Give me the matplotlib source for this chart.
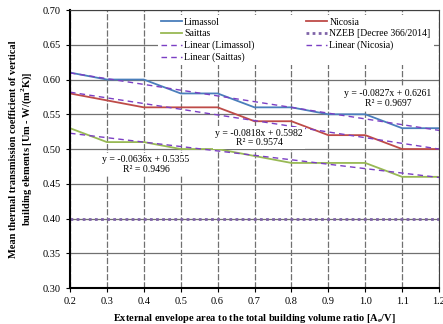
import numpy as np
import matplotlib
matplotlib.use('Agg')
import matplotlib.pyplot as plt

plt.rcParams['font.family'] = ['Liberation Serif', 'DejaVu Serif']

ratio = [0.2, 0.3, 0.4, 0.5, 0.6, 0.7, 0.8, 0.9, 1.0, 1.1, 1.2]
limassol = [0.61, 0.60, 0.60, 0.58, 0.58, 0.56, 0.56, 0.55, 0.55, 0.53, 0.53]
nicosia = [0.58, 0.57, 0.56, 0.56, 0.56, 0.54, 0.54, 0.52, 0.52, 0.50, 0.50]
saittas = [0.53, 0.51, 0.51, 0.50, 0.50, 0.49, 0.48, 0.48, 0.48, 0.46, 0.46]
nzeb = [0.40] * 11

fit_labels = ['y = -0.0827x + 0.6261\nR² = 0.9697',
              'y = -0.0818x + 0.5982\nR² = 0.9574',
              'y = -0.0636x + 0.5355\nR² = 0.9496']
fit_pos = [(1.062, 0.573), (0.713, 0.516), (0.406, 0.478)]

fig = plt.figure(figsize=(4.43, 3.24), dpi=100)
ax = fig.add_axes([0.158, 0.111, 0.833, 0.858])

x = np.array(ratio)
ax.plot(x, limassol, color='#4A7EBB', lw=1.3, label='Limassol')
ax.plot(x, nicosia, color='#BE4B48', lw=1.3, label='Nicosia')
ax.plot(x, saittas, color='#98B954', lw=1.3, label='Saittas')
ax.plot(x, nzeb, color='#7F63A8', lw=2, linestyle=(0, (1, 1.2)),
        label='NZEB [Decree 366/2014]')

trend_color = '#7B3FC4'
for ys, name in [(limassol, 'Limassol'), (nicosia, 'Nicosia'), (saittas, 'Saittas')]:
    k, b = np.polyfit(x, ys, 1)
    ax.plot(x, k * x + b, color=trend_color, lw=1.0, linestyle=(0, (4, 3)),
            label='Linear (%s)' % name)

for txt, (tx, ty) in zip(fit_labels, fit_pos):
    ax.text(tx, ty, txt, ha='center', va='center', fontsize=7, linespacing=1.1,
            bbox=dict(facecolor='white', edgecolor='none', pad=1.5))

ax.set_xlim(0.2, 1.2)
ax.set_ylim(0.30, 0.70)
ax.set_xticks(np.arange(0.2, 1.21, 0.1))
ax.set_xticklabels(['%.1f' % v for v in np.arange(0.2, 1.21, 0.1)])
ax.set_yticks(np.arange(0.30, 0.701, 0.05))
ax.set_yticklabels(['%.2f' % v for v in np.arange(0.30, 0.701, 0.05)])
ax.tick_params(labelsize=7.5, length=3, direction='out')
ax.grid(axis='y', color='#707070', lw=0.9)
ax.grid(axis='x', color='#707070', lw=0.9, linestyle=(0, (5, 1.5)))
ax.set_axisbelow(True)
for s in ['top', 'right']:
    ax.spines[s].set_color('#404040')
    ax.spines[s].set_linewidth(0.8)
for s in ['left', 'bottom']:
    ax.spines[s].set_linewidth(1.5)

# legend is filled column by column: reorder so it reads row-wise
handles, labels = ax.get_legend_handles_labels()
order = [0, 2, 4, 6, 1, 3, 5]
leg = ax.legend([handles[i] for i in order], [labels[i] for i in order],
                ncol=2, fontsize=7, loc='upper left', bbox_to_anchor=(0.225, 1.0),
                frameon=True, fancybox=False, edgecolor='none', framealpha=1,
                handlelength=2.2, handletextpad=0.2, columnspacing=5.3,
                labelspacing=0.25, borderpad=0.3)

ax.set_xlabel('External envelope area to the total building volume ratio [A$_\\mathregular{e}$/V]',
              fontsize=7.5, fontweight='bold', labelpad=4)
ax.set_ylabel('Mean thermal transmission coefficient of vertical\nbuilding elements [Um - W/(m$^\\mathregular{2}$K)]',
              fontsize=7.5, fontweight='bold', labelpad=6)

fig.savefig('out.png', dpi=100)
